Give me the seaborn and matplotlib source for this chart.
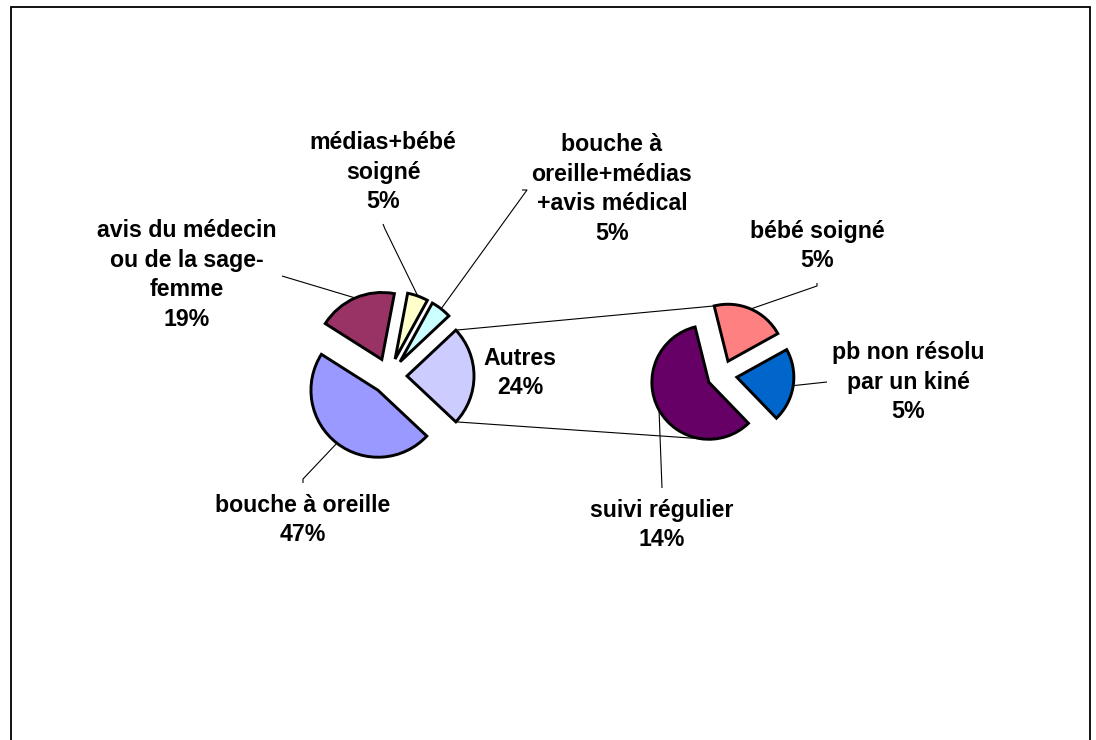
import numpy as np
import matplotlib
matplotlib.use("Agg")
import matplotlib.pyplot as plt
import seaborn as sns
from matplotlib.patches import Rectangle

# DATA
main_labels = ["bouche à oreille", "avis du médecin\nou de la sage-\nfemme",
               "médias+bébé\nsoigné", "bouche à\noreille+médias\n+avis médical", "Autres"]
main_values = [47, 19, 5, 5, 24]
main_colors = ["#9999FF", "#993366", "#FFFFCC", "#CCFFFF", "#CCCCFF"]

sub_labels = ["bébé soigné", "pb non résolu\npar un kiné", "suivi régulier"]
sub_values = [5, 5, 14]
sub_colors = ["#FF8080", "#0066CC", "#660066"]

W, H = 1096, 740

sns.set_theme(style="white")
plt.rcParams['font.family'] = ['Liberation Sans', 'DejaVu Sans']


def px(x, y):
    # pixel position (from top-left) -> data coords
    return (x, H - y)


# label layout: text centre, leader points (label side first), in pixels
main_layout = [
    ((303, 520), [(303, 483), (303, 479)]),
    ((187, 275), [(282, 276)]),
    ((383, 172), [(383, 224), (385, 229)]),
    ((612, 189), [(522, 190), (527, 190)]),
    ((520, 373), None),
]
sub_layout = [
    ((817, 246), [(817, 283), (817, 286)]),
    ((908, 382), [(827, 382)]),
    ((662, 525), [(662, 488)]),
]

fig = plt.figure(figsize=(W / 100, H / 100), dpi=100)
ax = fig.add_axes([0, 0, 1, 1])

wp = dict(edgecolor='black', linewidth=2.1, joinstyle='miter')
main_wedges, _ = ax.pie(main_values, colors=main_colors, explode=[18] * len(main_values),
                        startangle=360 - main_values[-1] * 3.6 / 2, counterclock=False,
                        radius=67, center=px(389, 376), wedgeprops=wp, frame=False)
sub_wedges, _ = ax.pie(sub_values, colors=sub_colors, explode=[15] * len(sub_values),
                       startangle=104, counterclock=False,
                       radius=57, center=px(722, 375), wedgeprops=wp, frame=False)

ax.set_xlim(0, W)
ax.set_ylim(0, H)
ax.set_aspect('equal')
ax.axis('off')


def arc_point(w, ang):
    a = np.deg2rad(ang)
    return (w.center[0] + w.r * np.cos(a), w.center[1] + w.r * np.sin(a))


def put_labels(wedges, labels, values, layout):
    for w, lab, val, (pos, leader) in zip(wedges, labels, values, layout):
        ax.text(*px(*pos), f"{lab}\n{val}%", ha='center', va='center',
                fontsize=16.7, fontweight='bold', linespacing=1.38, color='black')
        if leader:
            pts = [px(*p) for p in leader] + [arc_point(w, (w.theta1 + w.theta2) / 2)]
            xs, ys = zip(*pts)
            ax.plot(xs, ys, color='black', lw=0.8, solid_capstyle='butt')


put_labels(main_wedges, main_labels, main_values, main_layout)
put_labels(sub_wedges, sub_labels, sub_values, sub_layout)

# series lines linking "Autres" to the secondary pie
autres = main_wedges[-1]
top_a = arc_point(autres, autres.theta2)
bot_a = arc_point(autres, autres.theta1)
top_b = arc_point(sub_wedges[0], sub_wedges[0].theta2)
bot_b = arc_point(sub_wedges[-1], 270)
ax.plot([top_a[0], top_b[0]], [top_a[1], top_b[1]], color='black', lw=0.8, zorder=0)
ax.plot([bot_a[0], bot_b[0]], [bot_a[1], bot_b[1]], color='black', lw=0.8, zorder=0)

# chart area border
ax.add_patch(Rectangle((11, -20), 1079, H - 7 + 20, fill=False,
                       edgecolor='black', linewidth=1.3, clip_on=False))

plt.savefig('out.png', dpi=100)
plt.close()
